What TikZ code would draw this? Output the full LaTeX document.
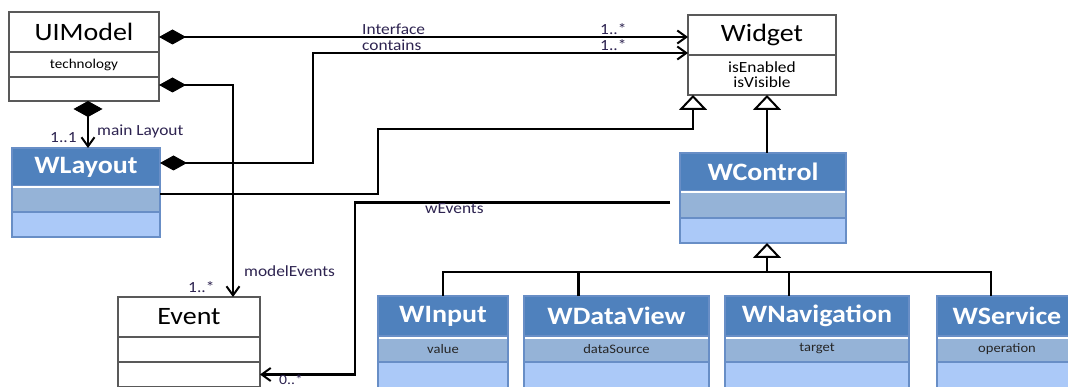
\documentclass[tikz,border=0pt]{standalone}
\usepackage{fontspec}
\setmainfont{Carlito}[FakeStretch=1.12]
\usepackage{tikz}
\usetikzlibrary{arrows.meta}

\definecolor{headblue}{RGB}{79,129,189}
\definecolor{midblue}{RGB}{149,179,215}
\definecolor{lowblue}{RGB}{171,201,248}
\definecolor{edgeblue}{RGB}{104,142,198}
\definecolor{labelink}{RGB}{45,35,80}

\newcommand{\clstitle}{\fontsize{25}{28}\selectfont}
\newcommand{\clsattr}{\fontsize{13}{15}\selectfont}
\newcommand{\asslabel}{\fontsize{15.5}{18}\selectfont}

\begin{document}
\begin{tikzpicture}[x=1pt,y=-1pt,
  box/.style={draw=black!65,line width=1.2pt,fill=white,inner sep=0pt,outer sep=0pt},
  head/.style={box,anchor=north west,font=\clstitle},
  part/.style={box,anchor=north,font=\clsattr,align=center},
  bluehead/.style={head,draw=edgeblue,fill=headblue,text=white,font=\clstitle\bfseries},
  bluemid/.style={part,draw=edgeblue,fill=midblue,text=black!85},
  bluelow/.style={part,draw=edgeblue,fill=lowblue},
  link/.style={line width=2.4pt,black},
  composite/.style={link,arrows={Diamond[length=27pt,width=15pt,line width=1pt]-Straight Barb[length=9pt,width=13pt,line width=2pt]}},
  compositedown/.style={link,arrows={Diamond[length=16pt,width=29pt,line width=1pt]-Straight Barb[length=9pt,width=13pt,line width=2pt]}},
  navigable/.style={link,arrows={-Straight Barb[length=9pt,width=13pt,line width=2pt]}},
  inherit/.style={link,arrows={-Triangle[length=15pt,width=28pt,fill=white,line width=2pt]}},
  role/.style={font=\asslabel,text=labelink,anchor=west,inner sep=0pt}]
\useasboundingbox (0,0) rectangle (1068,387);

% plain classes
\node[head,minimum width=150pt,minimum height=40pt] (uimodel) at (9,12) {UIModel};
\node[part,minimum width=150pt,minimum height=25pt,font=\fontsize{13.5}{15}\selectfont] (uimodel-attr) at (uimodel.south) {technology};
\node[part,minimum width=150pt,minimum height=24pt] (uimodel-ops) at (uimodel-attr.south) {};

\node[head,minimum width=148pt,minimum height=40pt] (widget) at (688,15) {Widget};
\node[part,minimum width=148pt,minimum height=40pt,font=\fontsize{15.5}{15}\selectfont] (widget-attr) at (widget.south) {isEnabled\\isVisible};

\node[head,minimum width=142pt,minimum height=40pt] (event) at (118,297) {Event};
\node[part,minimum width=142pt,minimum height=25pt] (event-attr) at (event.south) {};
\node[part,minimum width=142pt,minimum height=25pt] (event-ops) at (event-attr.south) {};

% blue classes
\node[bluehead,minimum width=148pt,minimum height=38pt] (wlayout) at (12,148) {WLayout};
\node[bluemid,minimum width=148pt,minimum height=26pt] (wlayout-attr) at (wlayout.south) {};
\node[bluelow,minimum width=148pt,minimum height=25pt] (wlayout-ops) at (wlayout-attr.south) {};

\node[bluehead,minimum width=166pt,minimum height=38pt] (wcontrol) at (680,153) {WControl};
\node[bluemid,minimum width=166pt,minimum height=27pt] (wcontrol-attr) at (wcontrol.south) {};
\node[bluelow,minimum width=166pt,minimum height=25pt] (wcontrol-ops) at (wcontrol-attr.south) {};

\node[bluehead,minimum width=130pt,minimum height=40pt] (winput) at (378,296) {WInput};
\node[bluemid,minimum width=130pt,minimum height=26pt] (winput-attr) at (winput.south) {value};
\node[bluelow,minimum width=130pt,minimum height=26pt] (winput-ops) at (winput-attr.south) {};

\node[bluehead,minimum width=185pt,minimum height=40pt] (wdataview) at (524,296) {WDataView};
\node[bluemid,minimum width=185pt,minimum height=26pt] (wdataview-attr) at (wdataview.south) {dataSource};
\node[bluelow,minimum width=185pt,minimum height=26pt] (wdataview-ops) at (wdataview-attr.south) {};

\node[bluehead,minimum width=184pt,minimum height=40pt] (wnavigation) at (725,296) {WNavigation};
\node[bluemid,minimum width=184pt,minimum height=26pt] (wnavigation-attr) at (wnavigation.south) {target};
\node[bluelow,minimum width=184pt,minimum height=26pt] (wnavigation-ops) at (wnavigation-attr.south) {};

\node[bluehead,minimum width=140pt,minimum height=40pt] (wservice) at (937,296) {WService};
\node[bluemid,minimum width=140pt,minimum height=26pt] (wservice-attr) at (wservice.south) {operation};
\node[bluelow,minimum width=140pt,minimum height=26pt] (wservice-ops) at (wservice-attr.south) {};

\foreach \cls in {wlayout,wcontrol,winput,wdataview,wnavigation,wservice}
  \draw[white,line width=2pt] ([xshift=1pt,yshift=-1.5pt]\cls.south west) -- ([xshift=-1pt,yshift=-1.5pt]\cls.south east);

% associations
\draw[composite] ([yshift=-5pt]uimodel.east) -- ([yshift=-5pt]uimodel.east -| widget.west);
\draw[composite] ([yshift=4pt]wlayout.east) -- ++(153,0) |- ([yshift=2pt]widget.south west);
\draw[composite] ([yshift=4pt]uimodel-ops.east) -| ([xshift=44pt]event.north);
\draw[compositedown] ([xshift=4pt]uimodel-ops.south) -- ([xshift=2pt]wlayout.north);
\draw[navigable] ([xshift=-10pt,yshift=2pt]wcontrol-attr.west) -- ++(-315,0) |- (event-ops.east);

% generalizations
\draw[inherit] ([yshift=5pt]wlayout-attr.east) -- ++(218,0) -- ++(0,-65) -| ([xshift=-69pt]widget-attr.south);
\draw[inherit] ([xshift=4pt]wcontrol.north) -- ([xshift=5pt]widget-attr.south);
\coordinate (fork) at ([xshift=4pt,yshift=24pt]wcontrol-ops.south |- winput.north);
\draw[link] (winput.north) |- (fork) -| ([xshift=-16pt]wservice.north);
\draw[link] ([xshift=-38pt]wdataview.north) -- ++(0,-24);
\draw[link] ([xshift=-28pt]wnavigation.north) -- ++(0,-24);
\draw[inherit] (fork) -- ([xshift=4pt]wcontrol-ops.south);

% role names and multiplicities
\node[role] (iface-label) at (362,29) {Interface};
\node[role] (iface-mult) at (600,29) {1..*};
\node[role] (contains-label) at (362,45) {contains};
\node[role] (contains-mult) at (600,45) {1..*};
\node[role] (main-label) at (97,131) {main Layout};
\node[role] (main-mult) at (50,138) {1..1};
\node[role] (events-label) at (244,271) {modelEvents};
\node[role] (events-mult) at (188,287) {1..*};
\node[role] (wevents-label) at (425,209) {wEvents};
\node[role,font=\fontsize{14}{16}\selectfont] (wevents-mult) at (279,380) {0..*};
\end{tikzpicture}
\end{document}
